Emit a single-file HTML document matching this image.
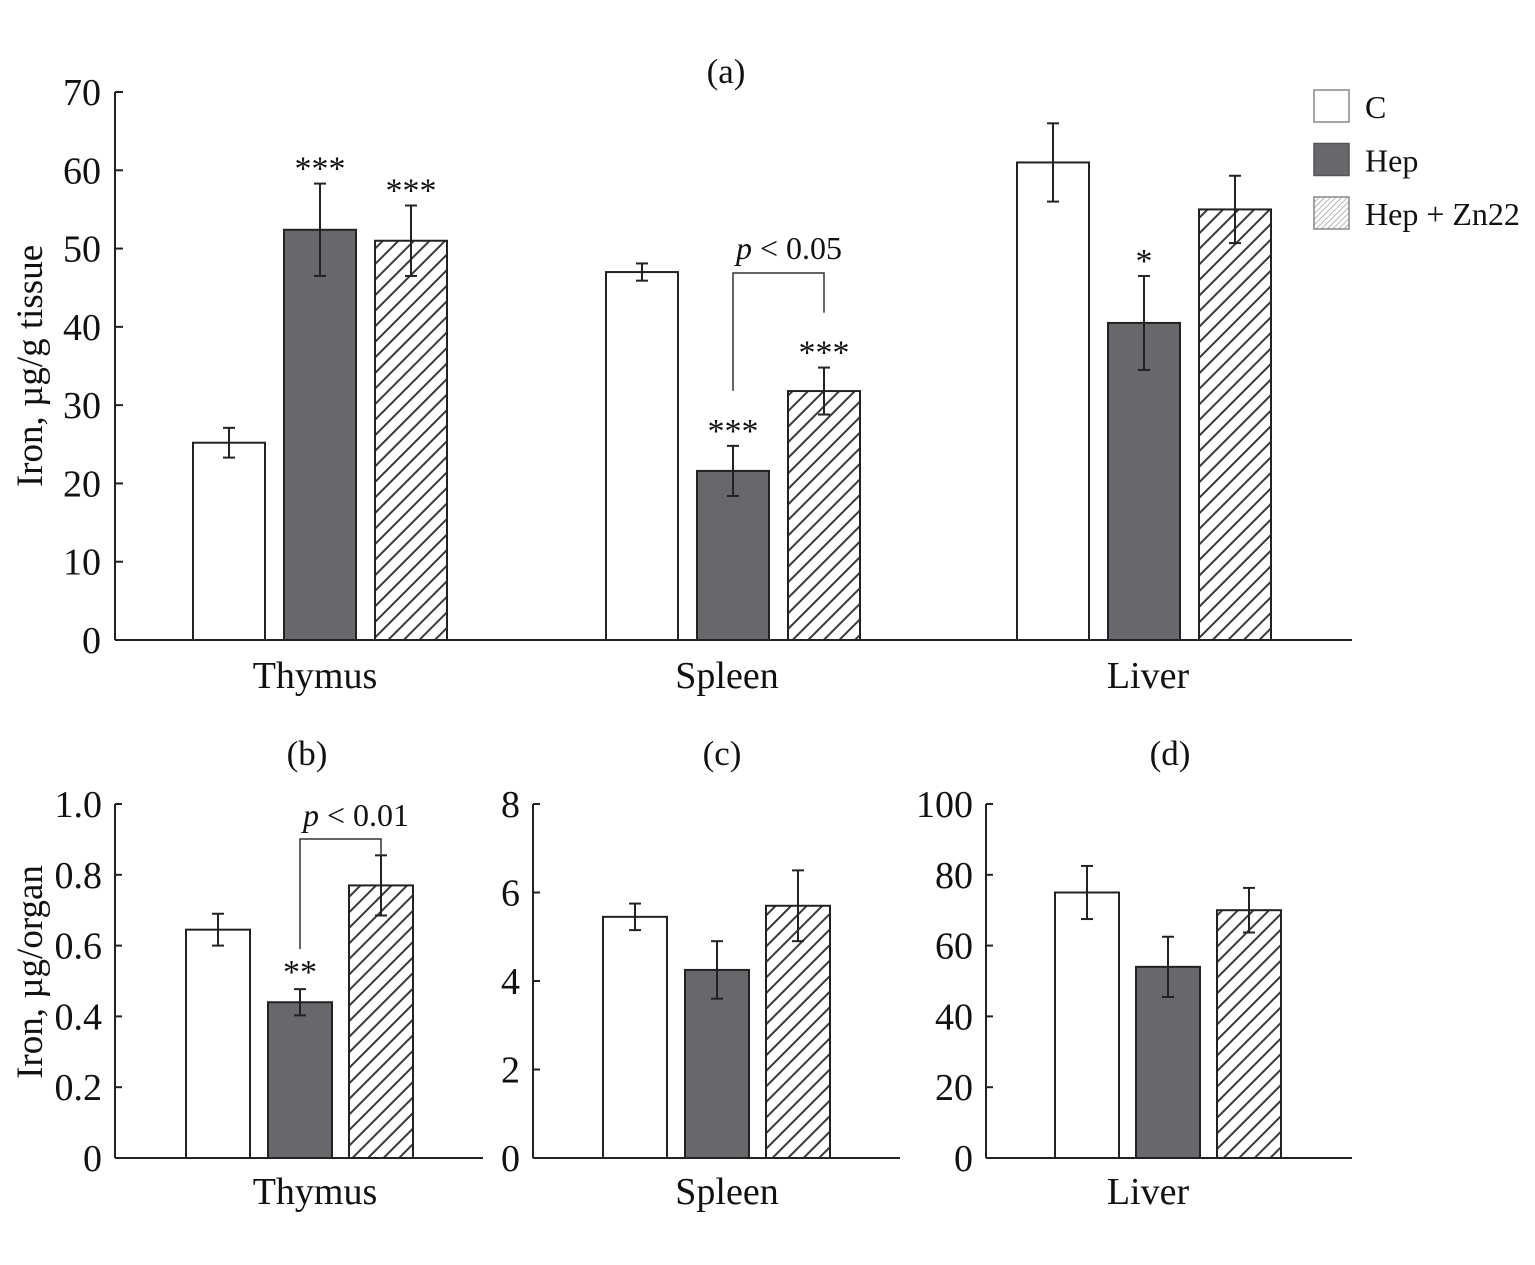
<!DOCTYPE html>
<html><head><meta charset="utf-8"><style>
html,body{margin:0;padding:0;background:#fff}
svg{display:block;font-family:"Liberation Serif",serif}
</style></head><body>
<svg id="chart" width="1535" height="1265" viewBox="0 0 1535 1265">
<defs>
<pattern id="hatch" patternUnits="userSpaceOnUse" width="11" height="11" patternTransform="rotate(45)">
<rect width="11" height="11" fill="#fff"/>
<line x1="0" y1="0" x2="0" y2="11" stroke="#3a3a3a" stroke-width="4"/>
</pattern>
<pattern id="hatchsm" patternUnits="userSpaceOnUse" width="4" height="4" patternTransform="rotate(45)">
<rect width="4" height="4" fill="#fff"/>
<line x1="0" y1="0" x2="0" y2="4" stroke="#888" stroke-width="1.2"/>
</pattern>
</defs>
<g id="root"></g>
</svg>
<script>
// Panel (a) data
const catsA = ["Thymus","Spleen","Liver"];
const cA = [25.2, 47, 61];
const cAerr = [1.9, 1.1, 5];
const hepA = [52.4, 21.6, 40.5];
const hepAerr = [5.9, 3.2, 6];
const znA = [51, 31.8, 55];
const znAerr = [4.5, 3, 4.3];
const ticksA = [0,10,20,30,40,50,60,70];
const starsA = [["","***","***"],["","***","***"],["","*",""]];
// Panel (b)
const bVals = [0.645, 0.44, 0.77];
const bErr = [0.045, 0.037, 0.085];
const bTicks = ["0","0.2","0.4","0.6","0.8","1.0"];
// Panel (c)
const cVals = [5.45, 4.25, 5.7];
const cErr = [0.3, 0.65, 0.8];
const cTicks = ["0","2","4","6","8"];
// Panel (d)
const dVals = [75, 54, 70];
const dErr = [7.5, 8.5, 6.3];
const dTicks = ["0","20","40","60","80","100"];

const NS="http://www.w3.org/2000/svg";
const root=document.getElementById('root');
function mk(tag,attrs,parent){const e=document.createElementNS(NS,tag);for(const k in attrs)e.setAttribute(k,attrs[k]);(parent||root).appendChild(e);return e;}
function txt(s,x,y,size,anchor,parent){const t=mk('text',{x:x,y:y,'font-size':size,'text-anchor':anchor||'middle',fill:'#111'},parent);t.textContent=s;return t;}
const fills=['#fff','#67686b','url(#hatch)'];
const sNames=['control','hep','hep-zn22'];

function errbar(x,y1,y2,g){
  mk('line',{x1:x,y1:y1,x2:x,y2:y2,stroke:'#222','stroke-width':2},g);
  mk('line',{x1:x-6,y1:y1,x2:x+6,y2:y1,stroke:'#222','stroke-width':2},g);
  mk('line',{x1:x-6,y1:y2,x2:x+6,y2:y2,stroke:'#222','stroke-width':2},g);
}

// ---- Panel A ----
const gA=mk('g',{});


const yA=v=>640-v*(548/70);
mk('line',{x1:115,y1:92,x2:115,y2:640,stroke:'#222','stroke-width':2},gA);
mk('line',{x1:115,y1:640,x2:1352,y2:640,stroke:'#222','stroke-width':2},gA);
ticksA.forEach(t=>{
  mk('line',{x1:115,y1:yA(t),x2:123,y2:yA(t),stroke:'#222','stroke-width':2},gA);
  const l=txt(String(t),101,yA(t)+13,38,'end',gA);
  
  
});
const yt=txt('Iron, µg/g tissue',0,0,37,'middle',gA);
yt.setAttribute('transform','translate(42,366) rotate(-90)');


const pa=txt('(a)',726,83,35,'middle',gA);


const centersA=[320,733,1144];
const labelXA=[315,727,1148];
const seriesA=[[cA,cAerr],[hepA,hepAerr],[znA,znAerr]];
catsA.forEach((c,i)=>{
  const cl=txt(c,labelXA[i],688,38,'middle',gA);
  
  
  seriesA.forEach((s,j)=>{
    const x=centersA[i]-127+j*91;
    const v=s[0][i],e=s[1][i];
    const r=mk('rect',{x:x,y:yA(v),width:72,height:640-yA(v),fill:fills[j],stroke:'#222','stroke-width':2},gA);
    
    
    errbar(x+36,yA(v+e),yA(v-e),gA);
    const st=starsA[i][j];
    if(st){const t=txt(st,x+36,yA(v+e)-4,34,'middle',gA);
      
      }
  });
});
// bracket spleen
{const xh=733,xz=824;const ytop=273;
 const br=mk('polyline',{points:`${xh},${yA(hepA[1]+hepAerr[1])-55} ${xh},${ytop} ${xz},${ytop} ${xz},${yA(znA[1]+znAerr[1])-55}`,fill:'none',stroke:'#333','stroke-width':1.5},gA);
 
 
 const t=mk('text',{x:789,y:259,'font-size':32,'text-anchor':'middle',fill:'#111'},gA);
 t.innerHTML='<tspan font-style="italic">p</tspan> &lt; 0.05';
 
 }
// legend
const legLabels=['C','Hep','Hep + Zn22'];
const legFills=['#fff','#67686b','url(#hatchsm)'];
legLabels.forEach((l,j)=>{
  const g=mk('g',{});
  
  
  const y=90+j*53.5;
  mk('rect',{x:1314,y:y,width:35,height:32,fill:legFills[j],stroke:j==1?'#555':'#888','stroke-width':1.5},g);
  txt(l,1365,y+28,32,'start',g);
});

// ---- Bottom panels ----
function panel(name,label,x0,x1,vals,errs,ticks,maxV,cat,xs,titleX,catX){
  const g=mk('g',{});
  
  
  const y=v=>1158-v*(354/maxV);
  mk('line',{x1:x0,y1:804,x2:x0,y2:1158,stroke:'#222','stroke-width':2},g);
  mk('line',{x1:x0,y1:1158,x2:x1,y2:1158,stroke:'#222','stroke-width':2},g);
  ticks.forEach(t=>{const v=parseFloat(t);
    mk('line',{x1:x0,y1:y(v),x2:x0+7,y2:y(v),stroke:'#222','stroke-width':2},g);
    const l=txt(t,x0-13,y(v)+13,38,'end',g);
    
    
  });
  const pl=txt(label,titleX,765,35,'middle',g);
  
  
  const cl=txt(cat,catX,1204,38,'middle',g);
  
  
  vals.forEach((v,j)=>{
    const r=mk('rect',{x:xs[j],y:y(v),width:64,height:1158-y(v),fill:fills[j],stroke:'#222','stroke-width':2},g);
    
    
    errbar(xs[j]+32,y(v+errs[j]),y(v-errs[j]),g);
  });
  return {g,y};
}
const pb=panel('b','(b)',115,483,bVals,bErr,bTicks,1.0,'Thymus',[186,268,349],307,315);
panel('c','(c)',533,900,cVals,cErr,cTicks,8,'Spleen',[603,685,766],722,727);
panel('d','(d)',986,1352,dVals,dErr,dTicks,100,'Liver',[1055,1136,1217],1170,1148);
const yl=txt('Iron, µg/organ',0,0,37,'middle',root);
yl.setAttribute('transform','translate(42,972) rotate(-90)');


{const y=pb.y;
 const st=txt('**',300,y(bVals[1]+bErr[1])-6,34,'middle',pb.g);
 
 
 const br=mk('polyline',{points:`300,${y(bVals[1]+bErr[1])-40} 300,839 381,839 381,${y(bVals[2]+bErr[2])}`,fill:'none',stroke:'#333','stroke-width':1.5},pb.g);
 
 
 const t=mk('text',{x:356,y:826,'font-size':32,'text-anchor':'middle',fill:'#111'},pb.g);
 t.innerHTML='<tspan font-style="italic">p</tspan> &lt; 0.01';
 
 }
</script>
</body></html>
